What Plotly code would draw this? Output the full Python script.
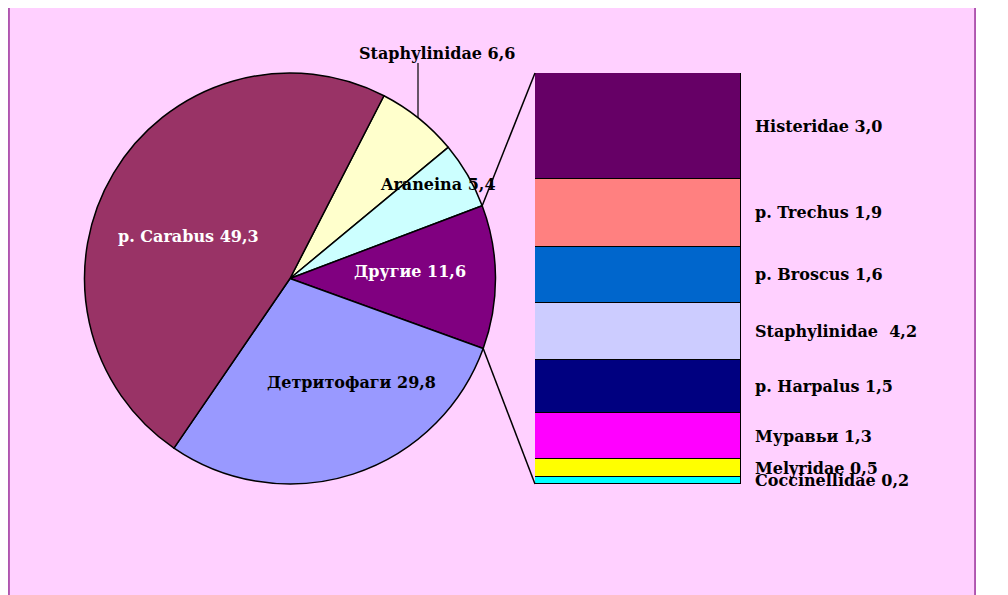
import math
import plotly.graph_objects as go

# page body adds an 8px margin; figure spans the pink panel
OFF = 8
W, H = 968, 595

# ---- data ----
pie_labels = ["Staphylinidae", "Araneina", "Другие", "Детритофаги", "p. Carabus"]
pie_values = [6.6, 5.4, 11.6, 29.8, 49.3]
pie_colors = ["#FFFFCC", "#CCFFFF", "#800080", "#9999FF", "#993366"]
pie_text_colors = ["black", "black", "white", "black", "white"]

bar_labels = ["Histeridae", "p. Trechus", "p. Broscus", "Staphylinidae ", "p. Harpalus",
              "Муравьи", "Melyridae", "Coccinellidae"]
bar_values = [3.0, 1.9, 1.6, 1.6, 1.5, 1.3, 0.5, 0.2]          # segment sizes
bar_label_values = ["3,0", "1,9", "1,6", "4,2", "1,5", "1,3", "0,5", "0,2"]
bar_colors = ["#660066", "#FF8080", "#0066CC", "#CCCCFF", "#000080",
              "#FF00FF", "#FFFF00", "#00FFFF"]

def px(x):
    return (x - OFF) / W

def py(y):
    return 1 - (y - OFF) / H

# geometry (layout, in window pixels)
cx, cy, R = 290, 278.5, 205.5
rotation = 27.2
bar_x0, bar_x1 = 535, 741

FONT = "DejaVu Serif"
FS = 16

fig = go.Figure()

fig.add_trace(go.Pie(
    labels=pie_labels, values=pie_values, sort=False, direction="clockwise",
    rotation=rotation,
    marker=dict(colors=pie_colors, line=dict(color="black", width=1.5)),
    textinfo="none", hoverinfo="label+value", showlegend=False,
    domain=dict(x=[px(cx - R), px(cx + R)], y=[py(cy + R), py(cy - R)]),
))

# stacked bar (bottom-up)
for lab, val, col in reversed(list(zip(bar_labels, bar_values, bar_colors))):
    fig.add_trace(go.Bar(
        x=[0], y=[val], width=1, name=lab, showlegend=False,
        marker=dict(color=col, line=dict(color="black", width=1.5)),
        hoverinfo="name+y",
    ))

total_bar = sum(bar_values)

fig.update_layout(
    width=W, height=H, margin=dict(l=0, r=0, t=0, b=0),
    paper_bgcolor="#FFD0FF", plot_bgcolor="rgba(0,0,0,0)",
    barmode="stack", bargap=0,
    xaxis=dict(domain=[px(bar_x0), px(bar_x1)], range=[-0.5, 0.5], visible=False, fixedrange=True),
    yaxis=dict(domain=[py(cy + R), py(cy - R)], range=[0, total_bar], visible=False, fixedrange=True),
)

shapes = []
# panel border (left / right)
for xx in (0.001, 0.999):
    shapes.append(dict(type="line", xref="paper", yref="paper", x0=xx, x1=xx, y0=0, y1=1,
                       line=dict(color="#993399", width=1.5), layer="below"))

# connector lines from "Другие" slice edges to bar corners
tot = sum(pie_values)
a_start = rotation + 360 * sum(pie_values[:2]) / tot
a_end = a_start + 360 * pie_values[2] / tot
for ang, by in ((a_start, cy - R), (a_end, cy + R)):
    r = math.radians(ang)
    x_p = cx + R * math.sin(r)
    y_p = cy - R * math.cos(r)
    shapes.append(dict(type="line", xref="paper", yref="paper",
                       x0=px(x_p), y0=py(y_p), x1=px(bar_x0), y1=py(by),
                       line=dict(color="black", width=1.5)))

# leader line for Staphylinidae label
shapes.append(dict(type="line", xref="paper", yref="paper",
                   x0=px(418), x1=px(418), y0=py(63), y1=py(cy - math.sqrt(R**2 - (418 - cx)**2)),
                   line=dict(color="black", width=1.2)))
fig.update_layout(shapes=shapes)

def fmt(v):
    return f"{v:.1f}".replace(".", ",")

annotations = []
pie_label_pos = [(437, 54), (438, 184), (410, 271), (351, 382), (188, 237)]
for lab, val, tc, (x, y) in zip(pie_labels, pie_values, pie_text_colors, pie_label_pos):
    annotations.append(dict(
        text=f"{lab} {fmt(val)}", x=px(x), y=py(y), xref="paper", yref="paper",
        showarrow=False, xanchor="center", yanchor="middle",
        font=dict(family=FONT, size=FS, color=tc, weight="bold"),
    ))

# bar labels at segment mid-points (top-down order)
cum_top = total_bar
for lab, val, lv in zip(bar_labels, bar_values, bar_label_values):
    mid = cum_top - val / 2
    cum_top -= val
    annotations.append(dict(
        text=f"{lab} {lv}", x=px(753), y=mid, xref="paper", yref="y",
        showarrow=False, xanchor="left", yanchor="middle",
        font=dict(family=FONT, size=FS, color="black", weight="bold"),
    ))
fig.update_layout(annotations=annotations)

fig.write_html("out.html")
